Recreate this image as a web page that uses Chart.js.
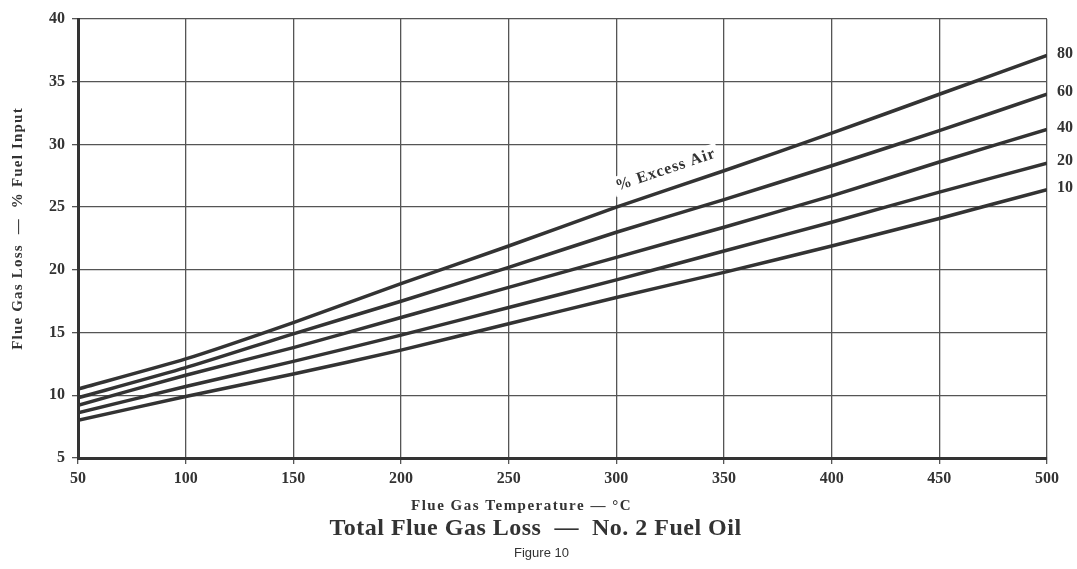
<!DOCTYPE html>
<html>
<head>
<meta charset="utf-8">
<script src="https://cdn.jsdelivr.net/npm/chart.js@4/dist/chart.umd.min.js"></script>
<style>
    html, body { margin: 0; padding: 0; background: #fff; }
    #wrap { width: 1077px; height: 569px; }
</style>
</head>
<body>
<div id="wrap"><canvas id="chart_flue_loss" width="1077" height="569"></canvas></div>
<script>
// flue gas temperature, deg C
var temps = [50, 100, 150, 200, 250, 300, 350, 400, 450, 500];

// total flue gas loss (% fuel input) per % excess air
var air80 = [10.5, 12.9, 15.8, 18.9, 21.9, 25.0, 27.9, 30.9, 34.0, 37.1];
var air60 = [9.8, 12.2, 14.9, 17.5, 20.2, 23.0, 25.6, 28.3, 31.1, 34.0];
var air40 = [9.2, 11.6, 13.8, 16.2, 18.6, 21.0, 23.4, 25.9, 28.6, 31.2];
var air20 = [8.6, 10.7, 12.7, 14.8, 17.0, 19.2, 21.5, 23.8, 26.2, 28.5];
var air10 = [8.0, 9.9, 11.7, 13.6, 15.7, 17.8, 19.8, 21.9, 24.1, 26.4];

var seriesLabels = ['80', '60', '40', '20', '10'];
var seriesValues = [air80, air60, air40, air20, air10];

var xTitle = 'Flue Gas Temperature \u2014 \u00b0C';
var yTitle = 'Flue Gas Loss  \u2014  % Fuel Input';
var mainTitle = 'Total Flue Gas Loss  \u2014  No. 2 Fuel Oil';
var figTitle = 'Figure 10';
var curveNote = '% Excess Air';

var ink = '#333333';
var serif = "'Liberation Serif', 'DejaVu Serif', serif";

var toPoints = function(values) {
    return temps.map(function(t, i) { return { x: t, y: values[i] }; });
};

var datasets = seriesValues.map(function(values, i) {
    return {
        label: seriesLabels[i],
        data: toPoints(values),
        borderColor: ink,
        borderWidth: 3.5,
        pointRadius: 0,
        tension: 0.2,
        fill: false
    };
});

var spaced = function(ctx, px) {
    if ('letterSpacing' in ctx) ctx.letterSpacing = px + 'px';
};

// axis titles, captions, curve labels
var curveNotes = {
    id: 'curveNotes',
    afterDraw: function(chart) {
        var ctx = chart.ctx;
        var xs = chart.scales.x;
        var ys = chart.scales.y;
        var area = chart.chartArea;
        var midX = (area.left + area.right) / 2;

        ctx.save();
        ctx.fillStyle = ink;
        ctx.textBaseline = 'middle';

        // end-of-curve labels
        ctx.font = 'bold 16px ' + serif;
        ctx.textAlign = 'left';
        seriesValues.forEach(function(values, i) {
            var y = ys.getPixelForValue(values[values.length - 1]);
            ctx.fillText(seriesLabels[i], area.right + 10, y - 2);
        });

        ctx.textAlign = 'center';

        // x title + captions under the plot
        spaced(ctx, 1.5);
        ctx.font = 'bold 15px ' + serif;
        ctx.fillText(xTitle, midX - 41, area.bottom + 48);
        spaced(ctx, 0.5);
        ctx.font = 'bold 24px ' + serif;
        ctx.fillText(mainTitle, midX - 27, area.bottom + 71);
        spaced(ctx, 0);
        ctx.font = '13px ' + "'Liberation Sans', sans-serif";
        ctx.fillText(figTitle, midX - 21, area.bottom + 95);

        // y title
        ctx.save();
        spaced(ctx, 1.2);
        ctx.translate(18, (area.top + area.bottom) / 2 - 10);
        ctx.rotate(-Math.PI / 2);
        ctx.font = 'bold 15px ' + serif;
        ctx.fillText(yTitle, 0, 0);
        ctx.restore();

        // note along the 80 % curve, between 300 and 350 C
        var x1 = xs.getPixelForValue(temps[5]), y1 = ys.getPixelForValue(air80[5]);
        var x2 = xs.getPixelForValue(temps[6]), y2 = ys.getPixelForValue(air80[6]);
        var angle = Math.atan2(y2 - y1, x2 - x1);
        ctx.save();
        spaced(ctx, 1);
        ctx.translate((x1 + x2) / 2 + 2, (y1 + y2) / 2);
        ctx.rotate(angle);
        ctx.font = 'bold 16px ' + serif;
        ctx.textBaseline = 'bottom';
        var w = ctx.measureText(curveNote).width;
        ctx.fillStyle = '#ffffff';
        ctx.fillRect(-w / 2 - 3, -30, w + 6, 20);
        ctx.fillStyle = ink;
        ctx.fillText(curveNote, 0, -12);
        ctx.restore();

        ctx.restore();
    }
};

var chart = new Chart(document.getElementById('chart_flue_loss'), {
    type: 'line',
    data: { datasets: datasets },
    options: {
        responsive: false,
        animation: false,
        events: [],
        layout: { padding: { top: 19, right: 30, left: 0, bottom: 0 } },
        plugins: {
            legend: { display: false },
            tooltip: { enabled: false }
        },
        scales: {
            x: {
                type: 'linear',
                min: 50,
                max: 500,
                afterFit: function(scale) { scale.height = 111; },
                ticks: {
                    stepSize: 50,
                    color: ink,
                    padding: 5,
                    maxRotation: 0,
                    font: { family: serif, size: 16, weight: 'bold' }
                },
                grid: { color: '#555555', lineWidth: 1.3, tickLength: 6 },
                border: { color: ink, width: 3 }
            },
            y: {
                min: 5,
                max: 40,
                afterFit: function(scale) { scale.width = 78; },
                ticks: {
                    stepSize: 5,
                    color: ink,
                    padding: 7,
                    font: { family: serif, size: 16, weight: 'bold' }
                },
                grid: { color: '#555555', lineWidth: 1.3, tickLength: 6 },
                border: { color: ink, width: 3 }
            }
        }
    },
    plugins: [curveNotes]
});
</script>
</body>
</html>
